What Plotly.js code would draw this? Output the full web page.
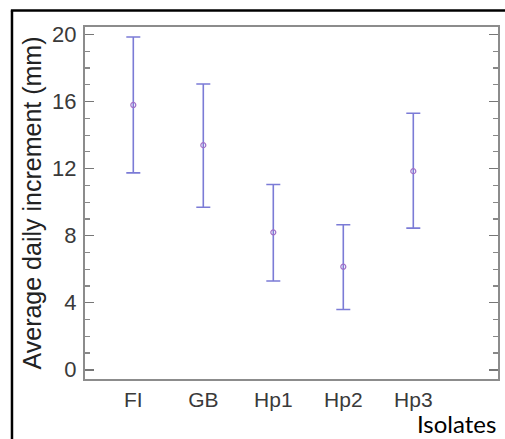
<!DOCTYPE html>
<html>
<head>
<meta charset="utf-8">
<script src="https://cdn.plot.ly/plotly-3.0.1.min.js"></script>
<style>html,body{margin:0;padding:0;background:#fff;}#chart{width:505px;height:439px;}</style>
</head>
<body>
<div id="chart"></div>
<script>
const isolates = ["FI", "GB", "Hp1", "Hp2", "Hp3"];
const means = [15.8, 13.4, 8.2, 6.15, 11.85];
const upper = [19.85, 17.05, 11.05, 8.65, 15.3];
const lower = [11.75, 9.7, 5.3, 3.6, 8.45];
const yTicks = [0, 4, 8, 12, 16, 20];

const plus = means.map((m, i) => upper[i] - m);
const minus = means.map((m, i) => m - lower[i]);

const trace = {
  type: "scatter",
  mode: "markers",
  x: isolates.map((_, i) => i),
  y: means,
  marker: {symbol: "circle-open", size: 5, color: "#a070c8", line: {width: 1.2}},
  error_y: {type: "data", symmetric: false, array: plus, arrayminus: minus,
            color: "#7b7bd6", thickness: 1.6, width: 7},
  hoverinfo: "none"
};

const layout = {
  width: 505, height: 439,
  margin: {l: 85, r: 7, t: 27, b: 60},
  paper_bgcolor: "#fff", plot_bgcolor: "#fff",
  showlegend: false,
  font: {family: "Liberation Sans, Arial, sans-serif"},
  xaxis: {
    range: [-0.69, 5.21],
    tickmode: "array", tickvals: isolates.map((_, i) => i), ticktext: isolates,
    ticks: "", showgrid: false, zeroline: false,
    showline: true, linecolor: "#8c8c8c", linewidth: 2, mirror: true,
    tickfont: {size: 21, color: "#3a3a3a"}, ticklabelstandoff: 1
  },
  yaxis: {
    range: [-0.55, 20.45],
    tickmode: "array", tickvals: yTicks,
    ticks: "inside", ticklen: 9, tickwidth: 1.5, tickcolor: "#777",
    minor: {dtick: 1, ticks: "inside", ticklen: 5, tickwidth: 1.2, tickcolor: "#888"},
    showgrid: false, zeroline: false,
    showline: true, linecolor: "#8c8c8c", linewidth: 2, mirror: "ticks",
    tickfont: {size: 22, color: "#3a3a3a"}, ticklabelstandoff: 2,
    title: {text: "Average daily increment (mm)", font: {size: 25, color: "#222"}, standoff: 3}
  },
  shapes: [
    {type: "line", xref: "paper", yref: "paper", x0: -0.1768, x1: -0.1768, y0: 1.047, y1: -0.2,
     line: {color: "#000", width: 2.5}},
    {type: "line", xref: "paper", yref: "paper", x0: -0.1795, x1: 1.05, y0: 1.047, y1: 1.047,
     line: {color: "#000", width: 2.5}}
  ],
  annotations: [
    {text: "Isolates", xref: "paper", yref: "paper", x: 1.0, y: -0.125,
     xanchor: "right", yanchor: "middle", showarrow: false,
     font: {family: "Lato, Liberation Sans, sans-serif", size: 24, color: "#000"}}
  ]
};

Plotly.newPlot("chart", [trace], layout, {displayModeBar: false, staticPlot: true});
</script>
</body>
</html>
